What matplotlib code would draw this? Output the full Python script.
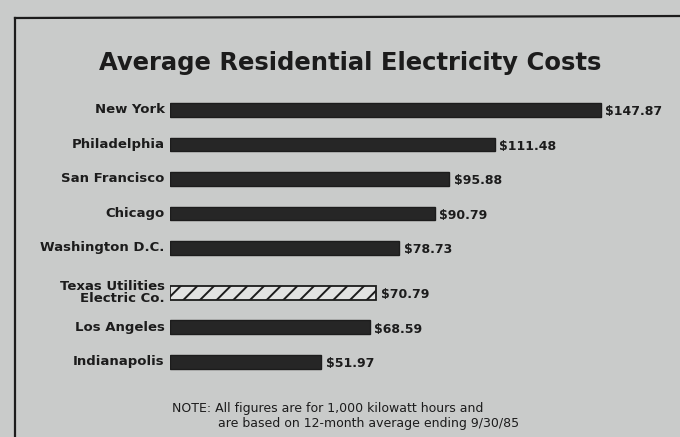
import matplotlib.pyplot as plt
import numpy as np

cities = [
    "New York",
    "Philadelphia",
    "San Francisco",
    "Chicago",
    "Washington D.C.",
    "Texas Utilities\nElectric Co.",
    "Los Angeles",
    "Indianapolis",
]
costs = [147.87, 111.48, 95.88, 90.79, 78.73, 70.79, 68.59, 51.97]
value_labels = ["$147.87", "$111.48", "$95.88", "$90.79", "$78.73", "$70.79", "$68.59", "$51.97"]
highlight = "Texas Utilities\nElectric Co."

title = "Average Residential Electricity Costs"
note_1 = "NOTE: All figures are for 1,000 kilowatt hours and"
note_2 = "are based on 12-month average ending 9/30/85"

paper = "#c9cbca"
ink = "#1c1c1c"

plt.rcParams["hatch.linewidth"] = 1.4

# extra space before the highlighted utility bar
positions = np.arange(len(cities), dtype=float)
gap_at = cities.index(highlight)
positions[gap_at:] += 0.3

fig = plt.figure(figsize=(6.8, 4.37), dpi=100)
fig.patch.set_facecolor(paper)

ax = fig.add_axes([0.25, 0.1167, 0.75, 0.679])
ax.set_facecolor(paper)
for pos, city, cost, label in zip(positions, cities, costs, value_labels):
    if city == highlight:
        ax.barh(pos, cost, height=0.4, color="#e2e3e2", edgecolor=ink,
                linewidth=1.3, hatch="//")
    else:
        ax.barh(pos, cost, height=0.4, color="#262626", edgecolor=ink, linewidth=1.0)
    ax.text(cost + 1.5, pos + 0.05, label, ha="left", va="center",
            fontsize=9, fontweight="bold", color=ink)
    ax.text(-1.8, pos, city, ha="right", va="center", fontsize=9.5,
            fontweight="bold", color=ink, linespacing=0.9)

ax.set_xlim(0, 175)
ax.set_ylim(8.0, -0.6)
ax.axis("off")

fig.text(0.515, 0.855, title, ha="center", va="center", fontsize=17.5,
         fontweight="bold", color=ink)
fig.text(0.253, 0.066, note_1, ha="left", va="center", fontsize=9,
         color=ink)
fig.text(0.321, 0.032, note_2, ha="left", va="center", fontsize=9,
         color=ink)

# frame lines of the printed box
fig.add_artist(plt.Line2D([15 / 680, 15 / 680], [0, 1 - 18 / 437],
                          transform=fig.transFigure, color=ink, linewidth=1.6))
fig.add_artist(plt.Line2D([15 / 680, 1], [1 - 18 / 437, 1 - 16 / 437],
                          transform=fig.transFigure, color=ink, linewidth=1.6))

fig.savefig("out.png", dpi=100, facecolor=paper)
